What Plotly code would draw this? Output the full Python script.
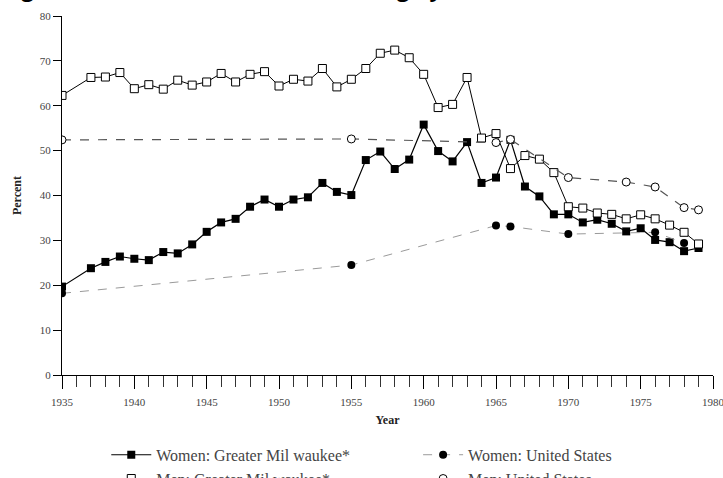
import plotly.graph_objects as go

# ---- data ----
years_mke = [1935] + list(range(1937, 1980))
women_mke = [19.7, 23.8, 25.2, 26.4, 25.9, 25.6, 27.4, 27.1, 29.1, 31.9,
             34.0, 34.8, 37.5, 39.1, 37.5, 39.1, 39.6, 42.8, 40.8, 40.1,
             47.9, 49.8, 45.9, 48.0, 55.8, 49.9, 47.6, 51.9, 42.8, 44.0,
             52.4, 42.0, 39.8, 35.8, 35.8, 34.0, 34.6, 33.7, 32.0, 32.7,
             30.1, 29.6, 27.6, 28.3]
men_mke = [62.3, 66.3, 66.4, 67.4, 63.8, 64.7, 63.7, 65.7, 64.6, 65.3,
           67.2, 65.3, 67.0, 67.6, 64.4, 65.9, 65.5, 68.3, 64.2, 65.9,
           68.3, 71.7, 72.4, 70.7, 67.0, 59.6, 60.3, 66.3, 52.8, 53.8,
           46.0, 48.9, 48.1, 45.1, 37.5, 37.2, 36.1, 35.8, 34.8, 35.7,
           34.8, 33.4, 31.8, 29.2]
years_women_us = [1935, 1955, 1965, 1966, 1970, 1976, 1978]
women_us = [18.2, 24.5, 33.3, 33.1, 31.4, 31.8, 29.4]
years_men_us = [1935, 1955, 1965, 1966, 1970, 1974, 1976, 1978, 1979]
men_us = [52.4, 52.6, 51.8, 52.5, 44.0, 43.0, 41.9, 37.3, 36.8]

series_names = ["Women: Greater Mil waukee*", "Women: United States",
                "Men: Greater Mil waukee*", "Men: United States"]
x_ticks = list(range(1935, 1981, 5))
y_ticks = list(range(0, 81, 10))
title_text = "Figure 3.3. Percent of Teens Working by Sex, 1935-1980"

SERIF = "Liberation Serif, Times New Roman, serif"

fig = go.Figure()
fig.add_trace(go.Scatter(
    x=years_mke, y=women_mke, name=series_names[0], mode="lines+markers",
    legend="legend",
    line=dict(color="black", width=1.2),
    marker=dict(symbol="square", size=8, color="black")))
fig.add_trace(go.Scatter(
    x=years_mke, y=men_mke, name=series_names[2], mode="lines+markers",
    legend="legend",
    line=dict(color="black", width=1),
    marker=dict(symbol="square", size=8, color="white",
                line=dict(color="black", width=1))))
fig.add_trace(go.Scatter(
    x=years_women_us, y=women_us, name=series_names[1], mode="lines+markers",
    legend="legend2",
    line=dict(color="#9a9a9a", width=1, dash="dash"),
    marker=dict(symbol="circle", size=8, color="black")))
fig.add_trace(go.Scatter(
    x=years_men_us, y=men_us, name=series_names[3], mode="lines+markers",
    legend="legend2",
    line=dict(color="#555555", width=1.2, dash="dash"),
    marker=dict(symbol="circle", size=8, color="white",
                line=dict(color="black", width=1))))

legend_style = dict(orientation="v", yanchor="top", xanchor="left",
                    font=dict(family=SERIF, size=16, color="#444"),
                    itemwidth=40, tracegroupgap=0, bgcolor="rgba(0,0,0,0)")

fig.update_layout(
    width=723, height=478,
    margin=dict(l=62, r=10, t=16, b=103, autoexpand=False),
    paper_bgcolor="white", plot_bgcolor="white",
    showlegend=True,
    legend=dict(x=0.068, y=-0.175, **legend_style),
    legend2=dict(x=0.547, y=-0.175, **legend_style),
    font=dict(family=SERIF, color="#333"),
)
fig.update_xaxes(
    range=[1935, 1980], tickvals=x_ticks, ticktext=[str(v) for v in x_ticks],
    ticks="outside", ticklen=13, tickcolor="black", tickwidth=1,
    minor=dict(dtick=1, tick0=1935, ticks="outside", ticklen=11, tickcolor="#333", tickwidth=1),
    showline=True, linecolor="black", linewidth=1, showgrid=False, zeroline=False,
    automargin=False, ticklabeloverflow="allow", ticklabelstandoff=4,
    tickfont=dict(family=SERIF, size=11, color="#444"),
    title=dict(text="<b>Year</b>", font=dict(family=SERIF, size=12, color="#222"), standoff=8),
)
fig.update_yaxes(
    range=[0, 80], tickvals=y_ticks, ticktext=[str(v) for v in y_ticks],
    ticks="outside", ticklen=8, tickcolor="black", tickwidth=1,
    showline=True, linecolor="black", linewidth=1, showgrid=False, zeroline=False,
    automargin=False,
    tickfont=dict(family=SERIF, size=11, color="#444"),
    title=dict(text="<b>Percent</b>", font=dict(family=SERIF, size=12, color="#222"), standoff=15),
)
fig.add_annotation(
    text="<b>" + title_text + "</b>", xref="paper", yref="paper",
    x=-0.0952, xanchor="left", y=1.0313, yanchor="bottom", showarrow=False,
    font=dict(family="Open Sans, sans-serif", size=22.5, color="black"))

fig.write_html("out.html")
